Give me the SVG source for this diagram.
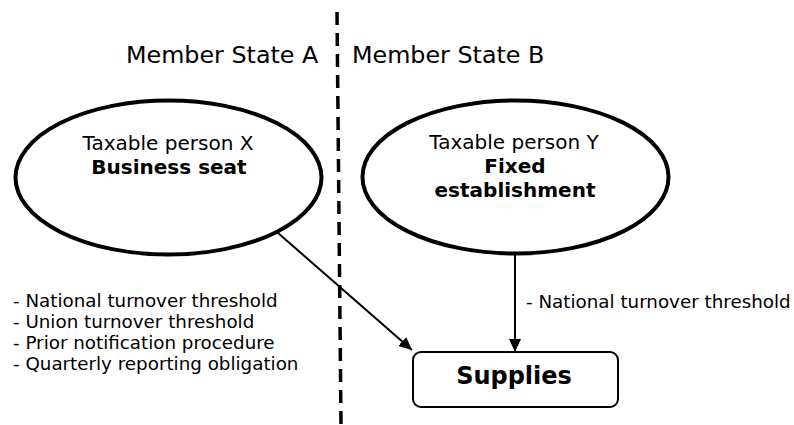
<svg xmlns="http://www.w3.org/2000/svg" width="794" height="425" viewBox="0 0 794 425">
<style>
text{font-family:"DejaVu Sans","Verdana",sans-serif;fill:#000}
.t{font-size:23.8px}
.n{font-size:20px;text-anchor:middle}
.b{font-weight:bold}
.l{font-size:18.3px}
.node{fill:#fff;stroke:#000}
.conn{stroke:#000;stroke-width:2;fill:none}
</style>
<defs>
<marker id="ah" markerUnits="userSpaceOnUse" markerWidth="14" markerHeight="12" refX="13" refY="6" orient="auto">
<path d="M0,0 L13,6 L0,12 Z" fill="#000"/>
</marker>
</defs>
<line x1="337" y1="12" x2="341" y2="425" stroke="#000" stroke-width="3.5" stroke-dasharray="13 8"/>
<text class="t" x="126" y="63">Member State A</text>
<text class="t" x="352" y="63">Member State B</text>
<g id="nodeX">
<ellipse class="node" cx="168.5" cy="177.5" rx="153" ry="77" stroke-width="4"/>
<text class="n" x="168" y="150">Taxable person X</text>
<text class="n b" x="169" y="174">Business seat</text>
</g>
<g id="nodeY">
<ellipse class="node" cx="515.5" cy="177" rx="153" ry="76.5" stroke-width="4"/>
<text class="n" x="514" y="149">Taxable person Y</text>
<text class="n b" x="515" y="173">Fixed</text>
<text class="n b" x="515" y="197">establishment</text>
</g>
<g id="supplies">
<rect class="node" x="413" y="352" width="205" height="55" rx="8" stroke-width="2"/>
<text x="514" y="384" font-size="24" font-weight="bold" text-anchor="middle">Supplies</text>
</g>
<g id="labels">
<text class="l" x="13" y="307">- National turnover threshold</text>
<text class="l" x="13" y="328">- Union turnover threshold</text>
<text class="l" x="13" y="349">- Prior notification procedure</text>
<text class="l" x="13" y="370">- Quarterly reporting obligation</text>
<text class="l" x="526" y="308">- National turnover threshold</text>
</g>
<g id="connectors">
<line class="conn" x1="278" y1="233" x2="412" y2="350" marker-end="url(#ah)"/>
<line class="conn" x1="515" y1="255" x2="515" y2="352" marker-end="url(#ah)"/>
</g>
</svg>
